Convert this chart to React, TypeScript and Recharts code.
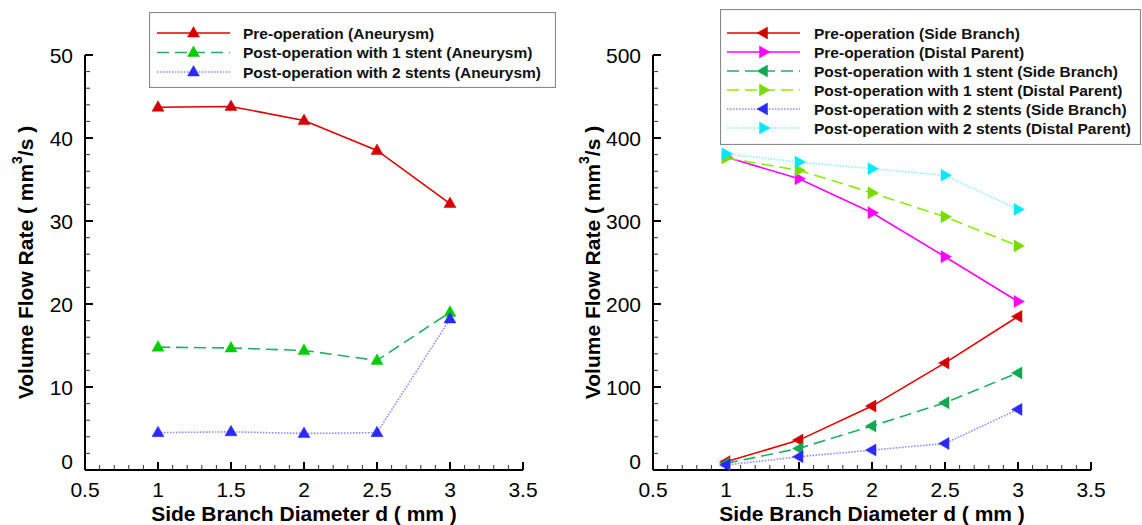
import React from 'react';
import { LineChart, Line, XAxis, YAxis, Legend, ReferenceLine, ReferenceDot } from 'recharts';

// ---------- data ----------
const diameters = [1, 1.5, 2, 2.5, 3];

const preAneurysm = [43.7, 43.8, 42.1, 38.5, 32.1];
const post1Aneurysm = [14.8, 14.7, 14.4, 13.2, 19.0];
const post2Aneurysm = [4.5, 4.6, 4.4, 4.5, 18.2];

const preSide = [10, 36, 77, 129, 185];
const preDistal = [377, 351, 310, 257, 203];
const post1Side = [8, 26, 53, 81, 117];
const post1Distal = [376, 361, 334, 305, 270];
const post2Side = [6, 16, 24, 32, 73];
const post2Distal = [381, 371, 363, 355, 314];

const xMajorTicks = [0.5, 1, 1.5, 2, 2.5, 3, 3.5];
const xMinorTicks = [
  0.6, 0.7, 0.8, 0.9, 1.1, 1.2, 1.3, 1.4, 1.6, 1.7, 1.8, 1.9, 2.1, 2.2, 2.3, 2.4,
  2.6, 2.7, 2.8, 2.9, 3.1, 3.2, 3.3, 3.4,
];
const leftYMajorTicks = [0, 10, 20, 30, 40, 50];
const leftYMinorTicks = [2, 4, 6, 8, 12, 14, 16, 18, 22, 24, 26, 28, 32, 34, 36, 38, 42, 44, 46, 48];
const rightYMajorTicks = [0, 100, 200, 300, 400, 500];
const rightYMinorTicks = [
  20, 40, 60, 80, 120, 140, 160, 180, 220, 240, 260, 280, 320, 340, 360, 380, 420, 440, 460, 480,
];

const xTitle = 'Side Branch Diameter d ( mm )';
const yTitleMain = 'Volume Flow Rate ( mm';
const yTitleSup = '3';
const yTitleEnd = '/s )';

type Shape = 'up' | 'left' | 'right';
type Series = { key: string; name: string; values: number[]; stroke: string; fill: string; dash?: string; shape: Shape };

const leftSeries: Series[] = [
  { key: 'preAneurysm', name: 'Pre-operation (Aneurysm)', values: preAneurysm, stroke: '#e00000', fill: '#d40000', shape: 'up' },
  { key: 'post1Aneurysm', name: 'Post-operation with 1 stent (Aneurysm)', values: post1Aneurysm, stroke: '#1fb064', fill: '#00cc00', dash: '12 6', shape: 'up' },
  { key: 'post2Aneurysm', name: 'Post-operation with 2 stents (Aneurysm)', values: post2Aneurysm, stroke: '#8888ff', fill: '#2a2aff', dash: '1.5 1.5', shape: 'up' },
];

const rightSeries: Series[] = [
  { key: 'preSide', name: 'Pre-operation (Side Branch)', values: preSide, stroke: '#e00000', fill: '#d40000', shape: 'left' },
  { key: 'preDistal', name: 'Pre-operation (Distal Parent)', values: preDistal, stroke: '#ff00ff', fill: '#ff00ff', shape: 'right' },
  { key: 'post1Side', name: 'Post-operation with 1 stent (Side Branch)', values: post1Side, stroke: '#1fb064', fill: '#10a850', dash: '12 6', shape: 'left' },
  { key: 'post1Distal', name: 'Post-operation with 1 stent (Distal Parent)', values: post1Distal, stroke: '#88ee00', fill: '#77dd00', dash: '12 6', shape: 'right' },
  { key: 'post2Side', name: 'Post-operation with 2 stents (Side Branch)', values: post2Side, stroke: '#8888ff', fill: '#2a2aff', dash: '1.5 1.5', shape: 'left' },
  { key: 'post2Distal', name: 'Post-operation with 2 stents (Distal Parent)', values: post2Distal, stroke: '#88f0ff', fill: '#00e8ff', dash: '1.5 1.5', shape: 'right' },
];

const buildData = (series: Series[]) =>
  diameters.map((d, i) => {
    const row: Record<string, number> = { d };
    series.forEach((s) => {
      row[s.key] = s.values[i];
    });
    return row;
  });

const leftData = buildData(leftSeries);
const rightData = buildData(rightSeries);

// ---------- styling / layout ----------
const FONT = 'Arial, "Liberation Sans", Helvetica, sans-serif';
const CHART_W = 571;
const CHART_H = 525;
const PLOT_TOP = 55;
const PLOT_BOTTOM = 470;

function markerPoints(shape: Shape, cx: number, cy: number) {
  if (shape === 'up') return `${cx},${cy - 6.5} ${cx + 6},${cy + 4} ${cx - 6},${cy + 4}`;
  if (shape === 'left') return `${cx - 6.5},${cy} ${cx + 4},${cy - 6} ${cx + 4},${cy + 6}`;
  return `${cx + 6.5},${cy} ${cx - 4},${cy - 6} ${cx - 4},${cy + 6}`;
}

const makeDot = (s: Series) => (p: any) => (
  <polygon key={`${s.key}-${p.index}`} points={markerPoints(s.shape, p.cx, p.cy)} fill={s.fill} stroke={s.fill} strokeWidth={0.5} />
);

// tick labels (text only) rendered by the axes
const XTickLabel = (props: any) => {
  const { x, payload } = props;
  const v = payload.value as number;
  if (!xMajorTicks.includes(v)) return <g />;
  return (
    <text x={x} y={PLOT_BOTTOM + 27} textAnchor="middle" fontSize={21} fontFamily={FONT} fill="#000">
      {String(v)}
    </text>
  );
};

const makeYTickLabel = (majors: number[], plotLeft: number) => (props: any) => {
  const { y, payload } = props;
  const v = payload.value as number;
  if (!majors.includes(v)) return <g />;
  const ly = v === 0 ? y - 9 : y;
  return (
    <text x={plotLeft - 12} y={ly + 7.5} textAnchor="end" fontSize={21} fontFamily={FONT} fill="#000">
      {String(v)}
    </text>
  );
};

// inward tick marks, placed through the chart's scales
const makeXTickMark = (len: number, width: number, color: string) => (p: any) => (
  <rect x={p.cx - width / 2} y={p.cy - len} width={width} height={len} fill={color} />
);
const makeYTickMark = (len: number, width: number, color: string) => (p: any) => (
  <rect x={p.cx} y={p.cy - width / 2} width={len} height={width} fill={color} />
);

const makeLegend = (series: Series[], w: number, h: number, rowStart: number, rowGap: number, lineX0: number, lineX1: number, textX: number) => () => (
  <svg width={w} height={h} style={{ display: 'block' }}>
    <rect x={0.5} y={0.5} width={w - 1} height={h - 1} fill="#fff" stroke="#8a8a8a" strokeWidth={1.2} />
    {series.map((s, i) => {
      const y = rowStart + i * rowGap;
      const mx = (lineX0 + lineX1) / 2;
      return (
        <g key={s.key}>
          <line x1={lineX0} x2={lineX1} y1={y} y2={y} stroke={s.stroke} strokeWidth={1.6} strokeDasharray={s.dash} />
          <polygon points={markerPoints(s.shape, mx, y)} fill={s.fill} stroke={s.fill} strokeWidth={0.5} />
          <text x={textX} y={y + 5.5} fontSize={15.5} fontWeight="bold" fontFamily={FONT} fill="#111">
            {s.name}
          </text>
        </g>
      );
    })}
  </svg>
);

type PanelProps = {
  data: Record<string, number>[];
  series: Series[];
  yDomain: [number, number];
  yMajors: number[];
  yMinors: number[];
  plotLeft: number;
  plotRight: number;
  legend: { left: number; top: number; w: number; h: number; rowStart: number; rowGap: number; lineX0: number; lineX1: number; textX: number };
};

const xMajorMark = makeXTickMark(8, 2, '#000');
const xMinorMark = makeXTickMark(5, 1, '#333');
const yMajorMark = makeYTickMark(8, 2, '#000');
const yMinorMark = makeYTickMark(5, 1, '#333');

const Panel = ({ data, series, yDomain, yMajors, yMinors, plotLeft, plotRight, legend }: PanelProps) => (
  <LineChart
    width={CHART_W}
    height={CHART_H}
    data={data}
    margin={{ top: PLOT_TOP, right: CHART_W - plotRight, left: 0, bottom: 0 }}
  >
    <XAxis
      dataKey="d"
      type="number"
      domain={[0.5, 3.5]}
      ticks={xMajorTicks}
      interval={0}
      height={CHART_H - PLOT_BOTTOM}
      axisLine={false}
      tickLine={false}
      tick={XTickLabel}
    />
    <YAxis
      type="number"
      domain={yDomain}
      ticks={yMajors}
      interval={0}
      width={plotLeft}
      axisLine={false}
      tickLine={false}
      tick={makeYTickLabel(yMajors, plotLeft)}
    />
    <Legend
      layout="vertical"
      align="center"
      verticalAlign="middle"
      wrapperStyle={{ left: legend.left, top: legend.top, width: legend.w, height: legend.h }}
      content={makeLegend(series, legend.w, legend.h, legend.rowStart, legend.rowGap, legend.lineX0, legend.lineX1, legend.textX)}
    />
    <ReferenceLine x={0.5} stroke="#000" strokeWidth={2} ifOverflow="visible" />
    <ReferenceLine y={0} stroke="#000" strokeWidth={2} ifOverflow="visible" />
    {xMajorTicks.map((t) => (
      <ReferenceDot key={`xM${t}`} x={t} y={yDomain[0]} r={1} ifOverflow="visible" shape={xMajorMark} />
    ))}
    {xMinorTicks.map((t) => (
      <ReferenceDot key={`xm${t}`} x={t} y={yDomain[0]} r={1} ifOverflow="visible" shape={xMinorMark} />
    ))}
    {yMajors.map((t) => (
      <ReferenceDot key={`yM${t}`} x={0.5} y={t} r={1} ifOverflow="visible" shape={yMajorMark} />
    ))}
    {yMinors.map((t) => (
      <ReferenceDot key={`ym${t}`} x={0.5} y={t} r={1} ifOverflow="visible" shape={yMinorMark} />
    ))}
    {series.map((s) => (
      <Line
        key={s.key}
        dataKey={s.key}
        name={s.name}
        type="linear"
        stroke={s.stroke}
        strokeWidth={1.6}
        strokeDasharray={s.dash}
        dot={makeDot(s)}
        activeDot={false}
        isAnimationActive={false}
      />
    ))}
  </LineChart>
);

const YTitle = ({ x }: { x: number }) => {
  const cy = (PLOT_TOP + PLOT_BOTTOM) / 2;
  return (
    <text
      x={x}
      y={cy}
      transform={`rotate(-90 ${x} ${cy})`}
      textAnchor="middle"
      dominantBaseline="central"
      fontSize={21}
      fontWeight="bold"
      fontFamily={FONT}
      fill="#000"
    >
      {yTitleMain}
      <tspan fontSize={14} dy={-8}>
        {yTitleSup}
      </tspan>
      <tspan dy={8}>{yTitleEnd}</tspan>
    </text>
  );
};

const Titles = () => (
  <svg width={1142} height={525} style={{ position: 'absolute', left: 0, top: 0, pointerEvents: 'none' }}>
    <YTitle x={25} />
    <YTitle x={592} />
    <text x={304} y={521} textAnchor="middle" fontSize={21} fontWeight="bold" fontFamily={FONT} fill="#000">
      {xTitle}
    </text>
    <text x={872} y={521} textAnchor="middle" fontSize={21} fontWeight="bold" fontFamily={FONT} fill="#000">
      {xTitle}
    </text>
  </svg>
);

export default function App() {
  return (
    <div style={{ position: 'absolute', left: 0, top: 0 }}>
      <div style={{ position: 'absolute', left: 0, top: 0 }}>
        <Panel
          data={leftData}
          series={leftSeries}
          yDomain={[0, 50]}
          yMajors={leftYMajorTicks}
          yMinors={leftYMinorTicks}
          plotLeft={85}
          plotRight={523}
          legend={{ left: 149, top: 12, w: 407, h: 76, rowStart: 21, rowGap: 19.5, lineX0: 8, lineX1: 81, textX: 94 }}
        />
      </div>
      <div style={{ position: 'absolute', left: CHART_W, top: 0 }}>
        <Panel
          data={rightData}
          series={rightSeries}
          yDomain={[0, 500]}
          yMajors={rightYMajorTicks}
          yMinors={rightYMinorTicks}
          plotLeft={82}
          plotRight={520}
          legend={{ left: 149, top: 9, w: 421, h: 136, rowStart: 24, rowGap: 19, lineX0: 7, lineX1: 80, textX: 94 }}
        />
      </div>
      <Titles />
    </div>
  );
}
